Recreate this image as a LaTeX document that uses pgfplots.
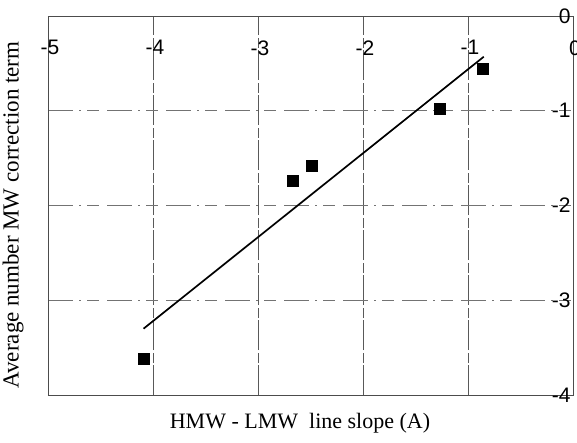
\documentclass[border=0pt]{standalone}
\usepackage{fontspec}
\setmainfont{Liberation Serif}
\newfontfamily\tickfont{Liberation Sans}
\usepackage{pgfplots}
\pgfplotsset{compat=1.18}
\begin{document}
\begin{tikzpicture}
\begin{axis}[
  name=ax,
  scale only axis,
  width=525pt, height=379pt,
  xmin=-5, xmax=0, ymin=-4, ymax=0,
  xtick={-5,-4,-3,-2,-1,0},
  ytick={-4,-3,-2,-1,0},
  major tick length=0pt,
  /pgf/number format/assume math mode=true,
  ticklabel style={font=\fontsize{21}{21}\selectfont\tickfont},
  xticklabel pos=upper,
  xticklabel style={anchor=north, yshift=-21pt, xshift=2pt},
  yticklabel pos=right,
  yticklabel style={anchor=east, xshift=1pt},
  grid=major,
  x grid style={black!65, line width=0.6pt, dash pattern=on 30pt off 2pt on 10pt off 3pt},
  y grid style={black!55, line width=0.6pt, dash pattern=on 25pt off 6pt on 2pt off 6pt on 12pt off 8pt},
  axis line style={black!70, line width=0.6pt},
  xlabel={HMW - LMW \ line slope (A)},
  xlabel style={font=\fontsize{22}{24}\selectfont, at={(axis description cs:0.48,0)}, anchor=north, yshift=-15pt},
  ylabel={Average number MW correction term},
  ylabel style={font=\fontsize{23}{25}\selectfont, at={(axis description cs:-0.04,0.475)}, anchor=south},
  clip=false,
]
\addplot[black, line width=1.7pt, no marks] coordinates {(-4.09,-3.30) (-0.85,-0.43)};
\addplot[only marks, mark=square*, mark size=5.5pt, black] coordinates {
  (-4.09,-3.62) (-2.67,-1.74) (-2.49,-1.58) (-1.27,-0.98) (-0.86,-0.56)};
\end{axis}
\pgfresetboundingbox
\path ([shift={(-48pt,-47pt)}]ax.south west) rectangle ([shift={(4pt,16pt)}]ax.north east);
\end{tikzpicture}
\end{document}
